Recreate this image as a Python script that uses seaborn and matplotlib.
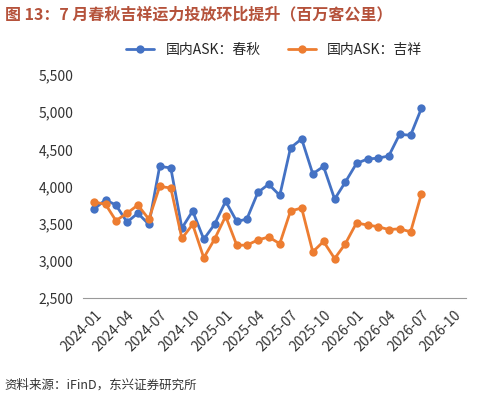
import matplotlib
matplotlib.use("Agg")
import matplotlib.pyplot as plt
import matplotlib.dates as mdates
import seaborn as sns
import pandas as pd

months = pd.date_range("2024-01-01", "2026-07-01", freq="MS")
chunqiu = [3700,3820,3750,3520,3640,3490,4270,4250,3440,3670,3290,3490,
           3800,3530,3560,3920,4030,3880,4520,4640,4170,4270,3830,4060,
           4310,4370,4380,4410,4700,4690,5050]
jixiang = [3790,3760,3540,3640,3750,3560,4000,3980,3300,3490,3040,3290,
           3600,3210,3210,3280,3320,3230,3670,3710,3120,3260,3030,3230,
           3510,3480,3460,3420,3430,3390,3900]
labels = ["国内ASK：春秋", "国内ASK：吉祥"]

df = pd.DataFrame({"date": list(months)*2,
                   "value": chunqiu + jixiang,
                   "series": [labels[0]]*len(months) + [labels[1]]*len(months)})

sns.set_style("white")
plt.rcParams['font.family'] = ['Noto Sans CJK SC', 'DejaVu Sans']

fig = plt.figure(figsize=(4.9, 4.01), dpi=100)
ax = fig.add_axes([0.17, 0.257, 0.78, 0.556])
sns.lineplot(data=df, x="date", y="value", hue="series", marker="o",
             palette=["#4472C4", "#ED7D31"], linewidth=2, markersize=6,
             markeredgewidth=0, ax=ax)
ax.set_ylim(2500, 5500)
ax.set_yticks(range(2500, 5501, 500))
ax.set_yticklabels([f"{v:,}" for v in range(2500, 5501, 500)], fontsize=10, color="#333333")
ax.set_xlim(pd.Timestamp("2023-12-01"), pd.Timestamp("2026-11-01"))
ax.xaxis.set_major_locator(mdates.MonthLocator(bymonth=[1,4,7,10]))
ax.xaxis.set_major_formatter(mdates.DateFormatter("%Y-%m"))
plt.setp(ax.get_xticklabels(), rotation=45, ha="right", rotation_mode="anchor", fontsize=10, color="#333333")
ax.set_xlabel(""); ax.set_ylabel("")
for s in ["top", "right", "left"]:
    ax.spines[s].set_visible(False)
ax.spines["bottom"].set_color("#999999")
ax.legend(loc="upper center", bbox_to_anchor=(0.5, 1.2), ncol=2, frameon=False, fontsize=10)
fig.text(0.01, 0.965, "图 13：7 月春秋吉祥运力投放环比提升（百万客公里）", fontsize=11.5,
         fontweight="bold", color="#B5523B", va="center")
fig.text(0.01, 0.03, "资料来源：iFinD，东兴证券研究所", fontsize=9, style="italic", color="#333333")
fig.savefig("out.png", dpi=100)
